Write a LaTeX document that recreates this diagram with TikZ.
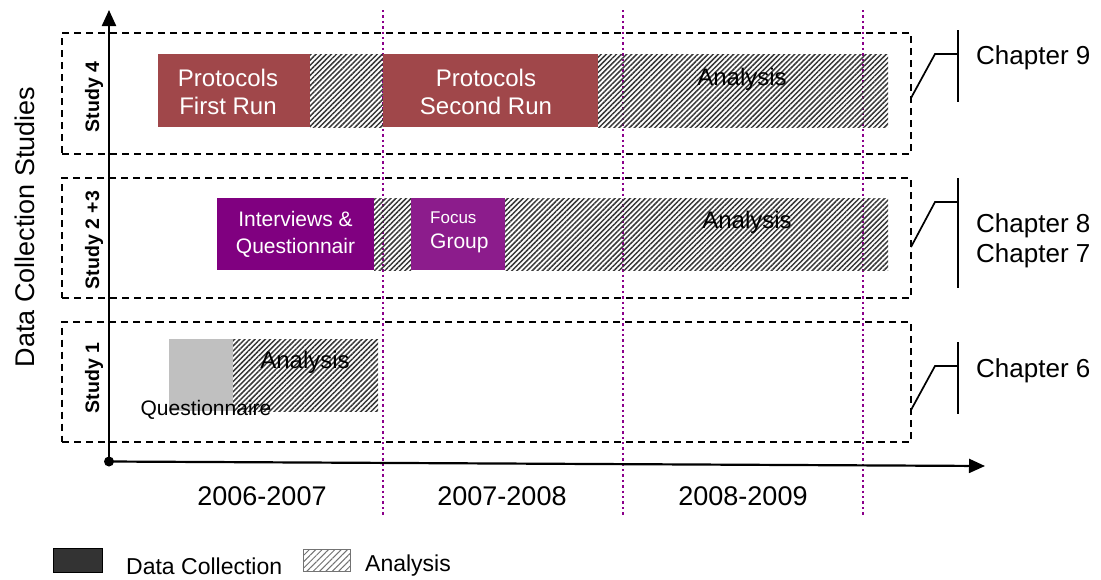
\documentclass[tikz,border=0pt]{standalone}
\usepackage{fontspec}
\setmainfont{Liberation Sans}
\usetikzlibrary{arrows.meta,patterns.meta}
\definecolor{runred}{HTML}{A0474A}
\definecolor{intpurple}{HTML}{800080}
\definecolor{focpurple}{HTML}{8C1C8C}
\definecolor{qgrey}{HTML}{C0C0C0}
\definecolor{yearline}{HTML}{8B008B}
\definecolor{legdark}{HTML}{333333}
\tikzset{
  fs/.style args={#1/#2}{font=\fontsize{#1}{#2}\selectfont},
  studybox/.style={draw=black, line width=2pt, dash pattern=on 7pt off 5pt, inner sep=0pt},
  bar/.style={inner sep=0pt, outer sep=0pt},
  bartext/.style={align=center, text=white, fs=24/28, inner sep=0pt},
  hatchbar/.style={inner sep=0pt, outer sep=0pt, pattern={Lines[angle=45,distance=3.6pt,line width=1.5pt]}, pattern color=black!78},
  yearsep/.style={draw=yearline, line width=2.6pt, dash pattern=on 2.4pt off 3pt},
  axis/.style={line width=2.2pt, -{Triangle[length=16pt,width=14pt]}},
  studylabel/.style={rotate=90, font=\bfseries\fontsize{19.5}{22}\selectfont},
  chapter/.style={anchor=west, fs=26/30, inner sep=0pt},
  bracket/.style={line width=1.7pt},
  year/.style={fs=27/30},
}
\begin{document}
\begin{tikzpicture}[x=1pt,y=-1pt]
\useasboundingbox (0,0) rectangle (1101,579);

% year separators (behind everything)
\foreach \xx/\nm in {383/ya,623/yb,863/yc}
  \draw[yearsep] (\xx,10) coordinate (\nm-top) -- (\xx,515) coordinate (\nm-bot);

% study frames
\node[studybox, minimum width=849pt, minimum height=121pt] (s4) at (486.5,93.5) {};
\node[studybox, minimum width=849pt, minimum height=120pt] (s23) at (486.5,238) {};
\node[studybox, minimum width=849pt, minimum height=120pt] (s1) at (486.5,381.5) {};

% Study 4 bars
\node[bar, fill=runred, minimum width=152pt, minimum height=73pt] (p1) at (234,90.5) {};
\node[bartext] (p1t) at (228,92) {Protocols\\First Run};
\node[hatchbar, minimum width=73pt, minimum height=73pt] (h1) at (346.5,90.5) {};
\node[bar, fill=runred, minimum width=215pt, minimum height=73pt] (p2) at (490.5,90.5) {};
\node[bartext] (p2t) at (486,92) {Protocols\\Second Run};
\node[hatchbar, minimum width=290pt, minimum height=73pt] (h2) at (743,90.5) {};
\node[fs=24/28] (a4) at (742,79) {Analysis};

% Study 2+3 bars
\node[bar, fill=intpurple, minimum width=157pt, minimum height=72pt] (i1) at (295.5,234) {};
\node[bartext, fs=21/27] (i1t) at (295.5,234) {Interviews \&\\Questionnair};
\node[hatchbar, minimum width=37pt, minimum height=72pt] (h3) at (392.5,234) {};
\node[bar, fill=focpurple, minimum width=94pt, minimum height=72pt] (f1) at (458,234) {};
\node[anchor=west, align=left, text=white, inner sep=0pt, fs=21/25] (f1t) at (430,232)
  {{\fontsize{17}{20}\selectfont Focus}\\Group};
\node[hatchbar, minimum width=383pt, minimum height=72pt] (h4) at (696.5,234) {};
\node[fs=24/28] (a23) at (747,222) {Analysis};

% Study 1 bars
\node[bar, fill=qgrey, minimum width=64pt, minimum height=72pt] (g1) at (201,375) {};
\node[hatchbar, minimum width=145pt, minimum height=72pt] (h5) at (305.5,375) {};
\node[fs=24/28] (a1) at (305,362) {Analysis};
\node[fs=21/25] (q1) at (206,410) {Questionnaire};

% axes
\node[circle, fill=black, inner sep=0pt, minimum size=10pt] (o) at (109,461.5) {};
\coordinate (ytip) at (109,10);
\coordinate (xtip) at (985,466);
\draw[axis] (o.center) -- (ytip);
\draw[axis] (o.center) -- (xtip);

% axis titles and study labels
\node[rotate=90, fs=27/30] (ytitle) at (25,227) {Data Collection Studies};
\node[studylabel] (l4) at (94,97) {Study 4};
\node[studylabel] (l23) at (94,240) {Study 2 +3};
\node[studylabel] (l1) at (94,378) {Study 1};

% years
\node[year] (y1) at (262,496) {2006-2007};
\node[year] (y2) at (502,496) {2007-2008};
\node[year] (y3) at (743,496) {2008-2009};

% chapter brackets
\foreach \nm/\ya/\yb/\yt/\ybt in {c9/98/54/30/102, c87/247/202/178/288, c6/410/366/342/414}{
  \coordinate (\nm-s) at (911,\ya);
  \coordinate (\nm-k) at (935,\yb);
  \coordinate (\nm-j) at (958,\yb);
  \coordinate (\nm-t) at (958,\yt);
  \coordinate (\nm-b) at (958,\ybt);
  \draw[bracket] (\nm-s) -- (\nm-k) -- (\nm-j);
  \draw[bracket] (\nm-t) -- (\nm-b);
}
\node[chapter] (ch9) at (976,58) {Chapter 9};
\node[chapter] (ch8) at (976,226) {Chapter 8};
\node[chapter] (ch7) at (976,256) {Chapter 7};
\node[chapter] (ch6) at (976,371) {Chapter 6};

% legend
\node[draw=black, line width=1pt, fill=legdark, minimum width=49pt, minimum height=24pt, inner sep=0pt] (kd) at (78,560.5) {};
\node[anchor=west, fs=23/28, inner sep=0pt] (kdt) at (126,566) {Data Collection};
\node[draw=black!55, line width=1pt, inner sep=0pt, minimum width=47pt, minimum height=22pt,
      pattern={Lines[angle=45,distance=4.5pt,line width=1pt]}, pattern color=black!55] (ka) at (326.5,560) {};
\node[anchor=west, fs=23/28, inner sep=0pt] (kat) at (365,566) {Analysis};
\end{tikzpicture}
\end{document}
